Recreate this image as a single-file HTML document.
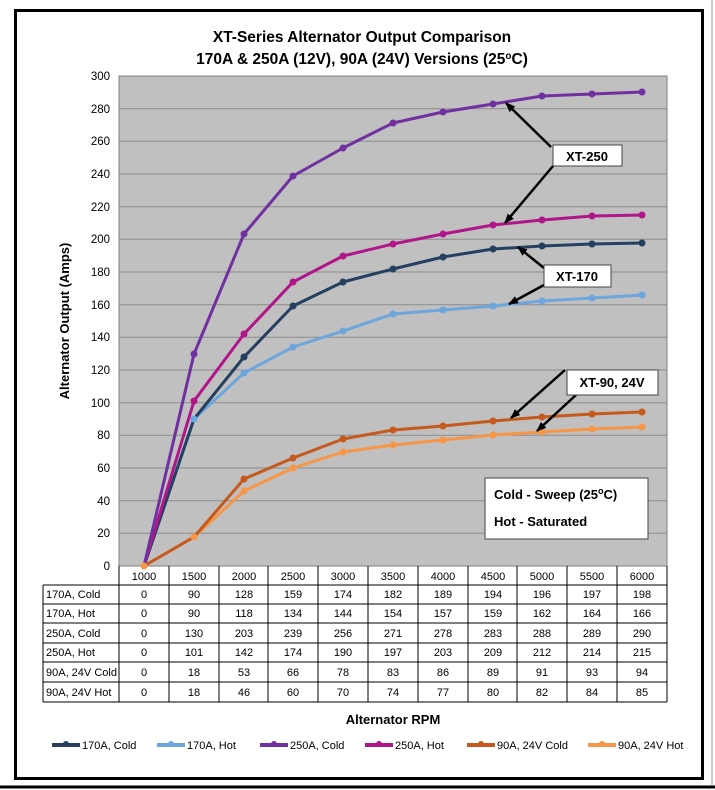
<!DOCTYPE html>
<html><head><meta charset="utf-8"><style>
html,body{margin:0;padding:0;background:#fff;}
svg{display:block;font-family:"Liberation Sans",sans-serif;}
</style></head><body>
<svg width="715" height="790" viewBox="0 0 715 790" xmlns="http://www.w3.org/2000/svg">
<defs><marker id="ah" markerWidth="10" markerHeight="8" refX="9" refY="4" orient="auto" markerUnits="userSpaceOnUse"><path d="M0,0 L10,4 L0,8 z" fill="#000"/></marker></defs>
<rect x="0" y="0" width="715" height="790" fill="#fff"/>
<line x1="712" y1="0" x2="712" y2="785" stroke="#ccc" stroke-width="2"/>
<rect x="15.5" y="10.5" width="687" height="768" fill="#fff" stroke="#000" stroke-width="3"/>
<line x1="0" y1="787" x2="715" y2="787" stroke="#000" stroke-width="3"/>
<g font-weight="bold" font-size="15.5" text-anchor="middle" fill="#000">
<text x="362" y="42">XT-Series Alternator Output Comparison</text>
<text x="362" y="64">170A &amp; 250A (12V), 90A (24V) Versions (25<tspan font-size="10" dy="-5">o</tspan><tspan dy="5">C)</tspan></text>
</g>
<rect x="119" y="76" width="548" height="490" fill="#c0c0c0"/>
<g stroke="#8c8c8c" stroke-width="1">
<line x1="119" x2="667" y1="533.3" y2="533.3"/><line x1="119" x2="667" y1="500.7" y2="500.7"/><line x1="119" x2="667" y1="468" y2="468"/><line x1="119" x2="667" y1="435.3" y2="435.3"/><line x1="119" x2="667" y1="402.7" y2="402.7"/><line x1="119" x2="667" y1="370" y2="370"/><line x1="119" x2="667" y1="337.3" y2="337.3"/><line x1="119" x2="667" y1="304.7" y2="304.7"/><line x1="119" x2="667" y1="272" y2="272"/><line x1="119" x2="667" y1="239.3" y2="239.3"/><line x1="119" x2="667" y1="206.7" y2="206.7"/><line x1="119" x2="667" y1="174" y2="174"/><line x1="119" x2="667" y1="141.3" y2="141.3"/><line x1="119" x2="667" y1="108.7" y2="108.7"/><line x1="119" x2="667" y1="76" y2="76"/>
</g>
<rect x="119" y="76" width="548" height="490" fill="none" stroke="#808080" stroke-width="1"/>
<g font-size="11.5" text-anchor="end" fill="#000">
<text x="110" y="570">0</text><text x="110" y="537">20</text><text x="110" y="505">40</text><text x="110" y="472">60</text><text x="110" y="439">80</text><text x="110" y="407">100</text><text x="110" y="374">120</text><text x="110" y="341">140</text><text x="110" y="309">160</text><text x="110" y="276">180</text><text x="110" y="243">200</text><text x="110" y="211">220</text><text x="110" y="178">240</text><text x="110" y="145">260</text><text x="110" y="113">280</text><text x="110" y="80">300</text>
</g>
<text transform="translate(69,321) rotate(-90)" text-anchor="middle" font-weight="bold" font-size="13">Alternator Output (Amps)</text>
<g fill="none" stroke-width="3" stroke-linejoin="round">
<polyline stroke="#f79646" points="144,566 194,537 244,491 293,468 343,452 393,445 443,440 493,435 542,432 592,429 642,427"/>
<polyline stroke="#c55a1c" points="144,566 194,537 244,479 293,458 343,439 393,430 443,426 493,421 542,417 592,414 642,412"/>
<polyline stroke="#6ca6dc" points="144,566 194,419 244,373 293,347 343,331 393,314 443,310 493,306 542,301 592,298 642,295"/>
<polyline stroke="#243f60" points="144,566 194,419 244,357 293,306 343,282 393,269 443,257 493,249 542,246 592,244 642,243"/>
<polyline stroke="#b0168a" points="144,566 194,401 244,334 293,282 343,256 393,244 443,234 493,225 542,220 592,216 642,215"/>
<polyline stroke="#7030a0" points="144,566 194,354 244,234 293,176 343,148 393,123 443,112 493,104 542,96 592,94 642,92"/>
</g>
<g fill="#f79646"><circle cx="144" cy="566" r="3.5"/><circle cx="194" cy="537" r="3.5"/><circle cx="244" cy="491" r="3.5"/><circle cx="293" cy="468" r="3.5"/><circle cx="343" cy="452" r="3.5"/><circle cx="393" cy="445" r="3.5"/><circle cx="443" cy="440" r="3.5"/><circle cx="493" cy="435" r="3.5"/><circle cx="542" cy="432" r="3.5"/><circle cx="592" cy="429" r="3.5"/><circle cx="642" cy="427" r="3.5"/></g>
<g fill="#c55a1c"><circle cx="244" cy="479" r="3.5"/><circle cx="293" cy="458" r="3.5"/><circle cx="343" cy="439" r="3.5"/><circle cx="393" cy="430" r="3.5"/><circle cx="443" cy="426" r="3.5"/><circle cx="493" cy="421" r="3.5"/><circle cx="542" cy="417" r="3.5"/><circle cx="592" cy="414" r="3.5"/><circle cx="642" cy="412" r="3.5"/></g>
<g fill="#6ca6dc"><circle cx="194" cy="419" r="3.5"/><circle cx="244" cy="373" r="3.5"/><circle cx="293" cy="347" r="3.5"/><circle cx="343" cy="331" r="3.5"/><circle cx="393" cy="314" r="3.5"/><circle cx="443" cy="310" r="3.5"/><circle cx="493" cy="306" r="3.5"/><circle cx="542" cy="301" r="3.5"/><circle cx="592" cy="298" r="3.5"/><circle cx="642" cy="295" r="3.5"/></g>
<g fill="#243f60"><circle cx="244" cy="357" r="3.5"/><circle cx="293" cy="306" r="3.5"/><circle cx="343" cy="282" r="3.5"/><circle cx="393" cy="269" r="3.5"/><circle cx="443" cy="257" r="3.5"/><circle cx="493" cy="249" r="3.5"/><circle cx="542" cy="246" r="3.5"/><circle cx="592" cy="244" r="3.5"/><circle cx="642" cy="243" r="3.5"/></g>
<g fill="#b0168a"><circle cx="194" cy="401" r="3.5"/><circle cx="244" cy="334" r="3.5"/><circle cx="293" cy="282" r="3.5"/><circle cx="343" cy="256" r="3.5"/><circle cx="393" cy="244" r="3.5"/><circle cx="443" cy="234" r="3.5"/><circle cx="493" cy="225" r="3.5"/><circle cx="542" cy="220" r="3.5"/><circle cx="592" cy="216" r="3.5"/><circle cx="642" cy="215" r="3.5"/></g>
<g fill="#7030a0"><circle cx="194" cy="354" r="3.5"/><circle cx="244" cy="234" r="3.5"/><circle cx="293" cy="176" r="3.5"/><circle cx="343" cy="148" r="3.5"/><circle cx="393" cy="123" r="3.5"/><circle cx="443" cy="112" r="3.5"/><circle cx="493" cy="104" r="3.5"/><circle cx="542" cy="96" r="3.5"/><circle cx="592" cy="94" r="3.5"/><circle cx="642" cy="92" r="3.5"/></g>
<g stroke="#000" stroke-width="2.5" marker-end="url(#ah)">
<line x1="551" y1="147" x2="506" y2="103"/>
<line x1="553" y1="166" x2="505" y2="223"/>
<line x1="544" y1="268" x2="518" y2="247"/>
<line x1="544" y1="285" x2="509" y2="304"/>
<line x1="565" y1="370" x2="511" y2="418"/>
<line x1="576" y1="395" x2="537" y2="431"/>
</g>
<g fill="#fff" stroke="#444" stroke-width="1">
<rect x="553" y="145" width="69" height="21"/>
<rect x="544" y="265" width="67" height="22"/>
<rect x="567" y="370" width="91" height="25"/>
<rect x="485" y="478" width="163" height="61"/>
</g>
<g font-weight="bold" font-size="13" fill="#000">
<text x="587" y="161" text-anchor="middle">XT-250</text>
<text x="577" y="281" text-anchor="middle">XT-170</text>
<text x="612" y="387" text-anchor="middle">XT-90, 24V</text>
<text x="494" y="499">Cold - Sweep (25<tspan font-size="9" dy="-5">o</tspan><tspan dy="5">C)</tspan></text>
<text x="494" y="526">Hot - Saturated</text>
</g>
<!-- table -->
<g stroke="#000" stroke-width="1" fill="none">
<line x1="119" y1="585" x2="667" y2="585"/>
<line x1="43" y1="585" x2="667" y2="585"/>
<line x1="43" y1="604" x2="667" y2="604"/>
<line x1="43" y1="623" x2="667" y2="623"/>
<line x1="43" y1="643" x2="667" y2="643"/>
<line x1="43" y1="662" x2="667" y2="662"/>
<line x1="43" y1="682" x2="667" y2="682"/>
<line x1="43" y1="702" x2="667" y2="702"/>
<line x1="43" y1="585" x2="43" y2="702"/>
<line x1="119" y1="566" x2="119" y2="702"/><line x1="169" y1="566" x2="169" y2="702"/><line x1="219" y1="566" x2="219" y2="702"/><line x1="268" y1="566" x2="268" y2="702"/><line x1="318" y1="566" x2="318" y2="702"/><line x1="368" y1="566" x2="368" y2="702"/><line x1="418" y1="566" x2="418" y2="702"/><line x1="468" y1="566" x2="468" y2="702"/><line x1="517" y1="566" x2="517" y2="702"/><line x1="567" y1="566" x2="567" y2="702"/><line x1="617" y1="566" x2="617" y2="702"/><line x1="667" y1="566" x2="667" y2="702"/>
</g>
<g font-size="11" fill="#000">
<text x="46" y="598">170A, Cold</text><text x="46" y="617">170A, Hot</text><text x="46" y="637">250A, Cold</text><text x="46" y="656">250A, Hot</text><text x="46" y="676">90A, 24V Cold</text><text x="46" y="696">90A, 24V Hot</text>
</g>
<g font-size="11" fill="#000" text-anchor="middle">
<text y="580"><tspan x="144">1000</tspan><tspan x="194">1500</tspan><tspan x="244">2000</tspan><tspan x="293">2500</tspan><tspan x="343">3000</tspan><tspan x="393">3500</tspan><tspan x="443">4000</tspan><tspan x="493">4500</tspan><tspan x="542">5000</tspan><tspan x="592">5500</tspan><tspan x="642">6000</tspan></text>
<text y="598"><tspan x="144">0</tspan><tspan x="194">90</tspan><tspan x="244">128</tspan><tspan x="293">159</tspan><tspan x="343">174</tspan><tspan x="393">182</tspan><tspan x="443">189</tspan><tspan x="493">194</tspan><tspan x="542">196</tspan><tspan x="592">197</tspan><tspan x="642">198</tspan></text>
<text y="617"><tspan x="144">0</tspan><tspan x="194">90</tspan><tspan x="244">118</tspan><tspan x="293">134</tspan><tspan x="343">144</tspan><tspan x="393">154</tspan><tspan x="443">157</tspan><tspan x="493">159</tspan><tspan x="542">162</tspan><tspan x="592">164</tspan><tspan x="642">166</tspan></text>
<text y="637"><tspan x="144">0</tspan><tspan x="194">130</tspan><tspan x="244">203</tspan><tspan x="293">239</tspan><tspan x="343">256</tspan><tspan x="393">271</tspan><tspan x="443">278</tspan><tspan x="493">283</tspan><tspan x="542">288</tspan><tspan x="592">289</tspan><tspan x="642">290</tspan></text>
<text y="656"><tspan x="144">0</tspan><tspan x="194">101</tspan><tspan x="244">142</tspan><tspan x="293">174</tspan><tspan x="343">190</tspan><tspan x="393">197</tspan><tspan x="443">203</tspan><tspan x="493">209</tspan><tspan x="542">212</tspan><tspan x="592">214</tspan><tspan x="642">215</tspan></text>
<text y="676"><tspan x="144">0</tspan><tspan x="194">18</tspan><tspan x="244">53</tspan><tspan x="293">66</tspan><tspan x="343">78</tspan><tspan x="393">83</tspan><tspan x="443">86</tspan><tspan x="493">89</tspan><tspan x="542">91</tspan><tspan x="592">93</tspan><tspan x="642">94</tspan></text>
<text y="696"><tspan x="144">0</tspan><tspan x="194">18</tspan><tspan x="244">46</tspan><tspan x="293">60</tspan><tspan x="343">70</tspan><tspan x="393">74</tspan><tspan x="443">77</tspan><tspan x="493">80</tspan><tspan x="542">82</tspan><tspan x="592">84</tspan><tspan x="642">85</tspan></text>
</g>
<text x="393" y="724" text-anchor="middle" font-weight="bold" font-size="13">Alternator RPM</text>
<g stroke-width="4">
<line x1="52" y1="745" x2="80" y2="745" stroke="#243f60"/>
<line x1="157" y1="745" x2="185" y2="745" stroke="#6ca6dc"/>
<line x1="260" y1="745" x2="288" y2="745" stroke="#7030a0"/>
<line x1="365" y1="745" x2="393" y2="745" stroke="#b0168a"/>
<line x1="467" y1="745" x2="495" y2="745" stroke="#c55a1c"/>
<line x1="588" y1="745" x2="616" y2="745" stroke="#f79646"/>
</g>
<g fill="#243f60"><circle cx="66" cy="744" r="3"/></g><g fill="#6ca6dc"><circle cx="171" cy="744" r="3"/></g><g fill="#7030a0"><circle cx="274" cy="744" r="3"/></g><g fill="#b0168a"><circle cx="379" cy="744" r="3"/></g><g fill="#c55a1c"><circle cx="481" cy="744" r="3"/></g><g fill="#f79646"><circle cx="602" cy="744" r="3"/></g>
<g font-size="11" fill="#000">
<text x="82" y="749">170A, Cold</text><text x="187" y="749">170A, Hot</text><text x="290" y="749">250A, Cold</text><text x="395" y="749">250A, Hot</text><text x="497" y="749">90A, 24V Cold</text><text x="618" y="749">90A, 24V Hot</text>
</g>
</svg>
</body></html>
